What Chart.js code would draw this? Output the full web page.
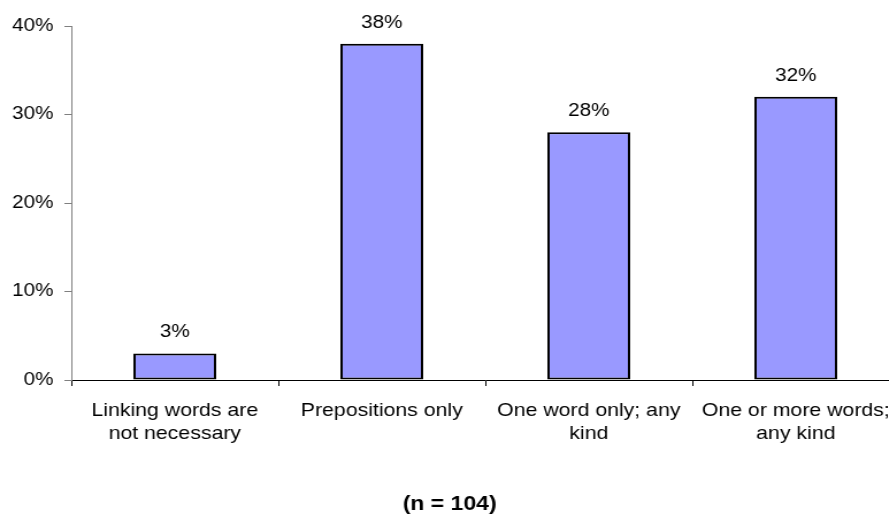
<!DOCTYPE html>
<html>
<head>
<meta charset="utf-8">
<script src="https://cdn.jsdelivr.net/npm/chart.js@4"></script>
<style>
  html, body { margin: 0; padding: 0; overflow: hidden; background: #fff; width: 889px; height: 516px; }
  /* the chart is drawn slightly narrow and stretched horizontally */
  #wrap { width: 836px; height: 516px; transform: scaleX(1.15); transform-origin: 0 0; }
  canvas { display: block; }
</style>
</head>
<body>
<div id="wrap"><canvas id="c" width="836" height="516"></canvas></div>
<script>
// Answer categories (wrapped onto two lines where needed)
const categories = [
  ["Linking words are", "not necessary"],
  ["Prepositions only"],
  ["One word only; any", "kind"],
  ["One or more words;", "any kind"]
];
// Share of respondents per answer, in percent
const shares = [3, 38, 28, 32];
// Value-axis tick values, in percent
const yTicks = [0, 10, 20, 30, 40];
// Sample size note under the chart
const sampleNote = "(n = 104)";

const FONT = "'Liberation Sans', Arial, sans-serif";

// Writes each bar's percentage just above its top
const valueLabels = {
  id: 'valueLabels',
  afterDatasetsDraw(chart) {
    const ctx = chart.ctx;
    const meta = chart.getDatasetMeta(0);
    ctx.save();
    ctx.font = `18px ${FONT}`;
    ctx.fillStyle = '#000';
    ctx.textAlign = 'center';
    ctx.textBaseline = 'alphabetic';
    meta.data.forEach((bar, i) => {
      ctx.fillText(shares[i] + '%', bar.x, bar.y - 16);
    });
    ctx.restore();
  }
};

new Chart(document.getElementById('c'), {
  type: 'bar',
  data: {
    labels: categories,
    datasets: [{
      data: shares,
      backgroundColor: '#9999FF',
      borderColor: '#000',
      borderWidth: 2,
      borderSkipped: false,
      barPercentage: 0.4,
      categoryPercentage: 1.0
    }]
  },
  options: {
    responsive: false,
    animation: false,
    devicePixelRatio: 1,
    layout: { padding: { left: 0, right: 54, top: 26, bottom: 0 } },
    plugins: {
      legend: { display: false },
      tooltip: { enabled: false },
      title: {
        display: true,
        text: sampleNote,
        position: 'bottom',
        color: '#000',
        font: { family: FONT, size: 20, weight: 'bold', lineHeight: 1.2 },
        padding: { top: 0, bottom: 0 }
      }
    },
    scales: {
      x: {
        offset: true,
        border: { display: true, color: '#000', width: 1 },
        grid: {
          display: true, offset: true, drawOnChartArea: false,
          drawTicks: true, tickLength: 6, color: '#000'
        },
        ticks: {
          color: '#000',
          padding: 13,
          maxRotation: 0, minRotation: 0, autoSkip: false,
          font: { family: FONT, size: 18.5, lineHeight: 1.25 }
        },
        afterFit(scale) { scale.height = 112; }
      },
      y: {
        min: 0, max: 40,
        border: { display: true, color: '#808080', width: 1 },
        grid: {
          display: true, drawOnChartArea: false,
          drawTicks: true, tickLength: 6, color: '#808080'
        },
        ticks: {
          color: '#000',
          padding: 9.5,
          font: { family: FONT, size: 18 },
          callback: v => v + '%'
        },
        afterBuildTicks(scale) { scale.ticks = yTicks.map(v => ({ value: v })); },
        afterFit(scale) { scale.width = 62; }
      }
    }
  },
  plugins: [valueLabels]
});
</script>
</body>
</html>
